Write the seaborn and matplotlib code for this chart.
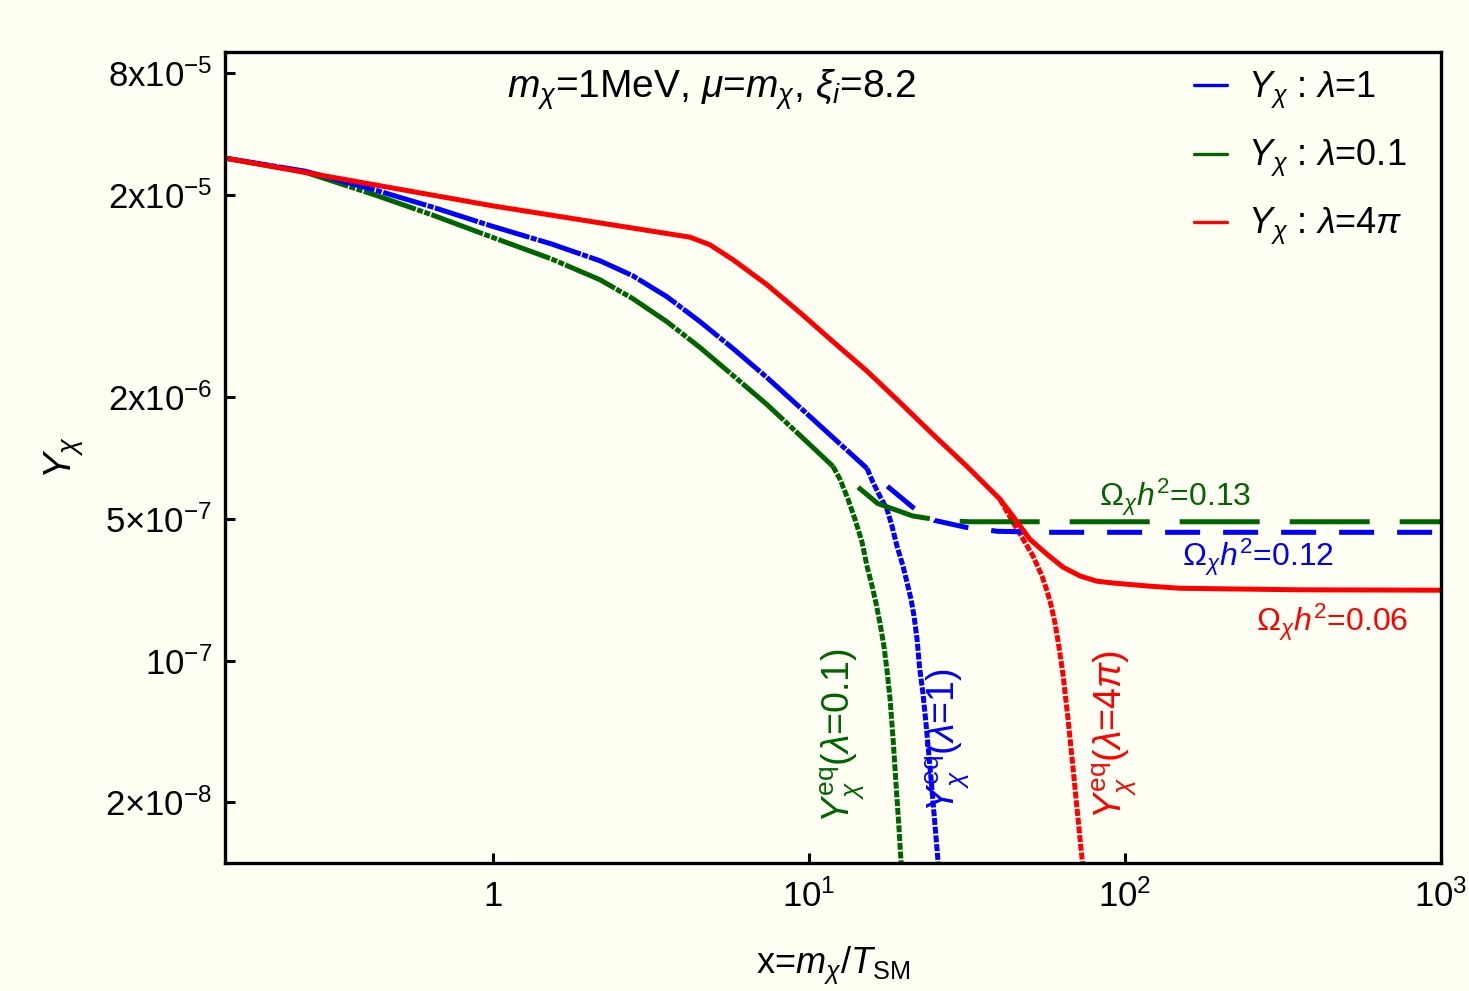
import matplotlib
matplotlib.use("Agg")
import matplotlib.pyplot as plt
from matplotlib.lines import Line2D
import pandas as pd
import seaborn as sns

# Y_chi vs x = m_chi/T_SM
# lambda = 4 pi
x_red = [0.142, 1.0, 4.2, 4.86, 5.75, 7.36, 9.37, 11.9, 15.3, 19.4, 24.7, 31.6,
         40.2, 44.2, 50.0, 56.6, 63.6, 72.1, 81.5, 91.6, 117.4, 149.0, 358.0, 1000.0]
y_red = [3.05e-5, 1.77e-5, 1.24e-5, 1.137e-5, 9.59e-6, 7.22e-6, 5.25e-6, 3.78e-6,
         2.69e-6, 1.89e-6, 1.31e-6, 9.13e-7, 6.28e-7, 5.17e-7, 3.98e-7, 3.36e-7,
         2.90e-7, 2.62e-7, 2.47e-7, 2.42e-7, 2.34e-7, 2.28e-7, 2.24e-7, 2.23e-7]
x_red_eq = [40.2, 44.2, 47.6, 51.2, 54.6, 56.65, 58.32, 60.04, 61.81, 63.6, 66.0,
            68.5, 71.0, 73.1, 74.7]
y_red_eq = [6.28e-7, 4.83e-7, 3.98e-7, 3.28e-7, 2.62e-7, 2.21e-7, 1.882e-7, 1.534e-7,
            1.168e-7, 8.6e-8, 5.16e-8, 2.92e-8, 1.656e-8, 1.05e-8, 8e-9]

# lambda = 1
x_blue = [0.142, 0.254, 0.423, 0.641, 0.986, 1.526, 2.18, 2.77, 3.55, 4.52, 5.75,
          7.36, 9.37, 11.9, 15.26]
y_blue = [3.05e-5, 2.63e-5, 2.123e-5, 1.75e-5, 1.41e-5, 1.15e-5, 9.48e-6, 7.99e-6,
          6.30e-6, 4.74e-6, 3.49e-6, 2.51e-6, 1.784e-6, 1.269e-6, 8.92e-7]
x_blue_eq = [15.26, 15.94, 16.77, 17.66, 18.31, 18.99, 19.84, 20.42, 21.03, 21.49,
             21.97, 22.37, 22.95, 23.46, 23.98, 24.51, 25.05, 25.6, 25.9]
y_blue_eq = [8.92e-7, 7.61e-7, 6.49e-7, 5.60e-7, 4.62e-7, 3.68e-7, 2.93e-7, 2.44e-7,
             2.01e-7, 1.662e-7, 1.28e-7, 9.31e-8, 6.85e-8, 4.87e-8, 3.35e-8, 2.28e-8,
             1.53e-8, 1.02e-8, 8e-9]
x_blue_fo = [17.7, 21.3, 24.9, 31.2, 39.5, 57.9, 1000.0]
y_blue_fo = [7.28e-7, 5.73e-7, 4.94e-7, 4.57e-7, 4.36e-7, 4.31e-7, 4.31e-7]

# lambda = 0.1
x_green = [0.142, 0.254, 0.423, 0.641, 0.986, 1.526, 2.18, 2.77, 3.55, 4.52, 5.75,
           7.36, 9.37, 11.91]
y_green = [3.05e-5, 2.60e-5, 2.005e-5, 1.599e-5, 1.245e-5, 9.70e-6, 7.64e-6, 6.16e-6,
           4.74e-6, 3.53e-6, 2.567e-6, 1.846e-6, 1.298e-6, 9.13e-7]
x_green_eq = [11.91, 12.54, 13.29, 13.98, 14.72, 15.26, 15.83, 16.29, 16.77, 17.28,
              17.66, 18.05, 18.45, 18.85, 19.27, 19.55, 19.7]
y_green_eq = [9.13e-7, 7.87e-7, 6.28e-7, 5.0e-7, 3.85e-7, 2.93e-7, 2.34e-7, 1.926e-7,
              1.534e-7, 1.168e-7, 8.89e-8, 6.47e-8, 4.11e-8, 2.46e-8, 1.478e-8,
              1.016e-8, 8e-9]
x_green_fo = [14.3, 16.5, 21.3, 26.0, 32.3, 1000.0]
y_green_fo = [7.2e-7, 5.98e-7, 5.19e-7, 4.94e-7, 4.86e-7, 4.86e-7]

xtick_vals = [1, 10, 100, 1000]
xtick_labels = ["1", r"$10^1$", r"$10^2$", r"$10^3$"]
ytick_vals = [8e-5, 2e-5, 2e-6, 5e-7, 1e-7, 2e-8]
ytick_labels = [r"8x$10^{-5}$", r"2x$10^{-5}$", r"2x$10^{-6}$",
                r"5$\times10^{-7}$", r"$10^{-7}$", r"2$\times10^{-8}$"]

legend_labels = [r"$Y_\chi$ : $\lambda$=1", r"$Y_\chi$ : $\lambda$=0.1",
                 r"$Y_\chi$ : $\lambda$=4$\pi$"]

BLUE = "#0000ff"
GREEN = "#006400"
RED = "#ff0000"
BG = "#fffff3"

sns.set_style("ticks")
plt.rcParams["font.family"] = ["Liberation Sans", "DejaVu Sans"]
plt.rcParams["mathtext.fontset"] = "custom"
plt.rcParams["mathtext.rm"] = "Liberation Sans"
plt.rcParams["mathtext.it"] = "Liberation Sans:italic"
plt.rcParams["mathtext.bf"] = "Liberation Sans:bold"
for k in ["text.color", "axes.labelcolor", "xtick.color", "ytick.color"]:
    plt.rcParams[k] = "black"

fig = plt.figure(figsize=(14.69, 9.91), dpi=100, facecolor=BG)
ax = fig.add_axes([0.1532, 0.1292, 0.8278, 0.8183], facecolor=BG)

LW = 3.6
dotted = (0, (1.4, 0.35))


def draw(xs, ys, color, ls="-"):
    df = pd.DataFrame({"x": xs, "y": ys})
    sns.lineplot(data=df, x="x", y="y", ax=ax, color=color, lw=LW, ls=ls,
                 estimator=None, sort=False, legend=False)


# equilibrium curves underneath
draw(x_green_eq, y_green_eq, GREEN, dotted)
draw(x_blue_eq, y_blue_eq, BLUE, dotted)
draw(x_red_eq, y_red_eq, RED, dotted)
# freeze-out tails
draw(x_blue_fo, y_blue_fo, BLUE, (0, (7, 4.6)))
draw(x_green_fo, y_green_fo, GREEN, (0, (16, 6)))
# main curves (Mathematica-style dash-dot with tiny gaps)
draw(x_green, y_green, GREEN, (0, (11, 0.3, 1.2, 0.3, 1.2, 0.3)))
draw(x_blue, y_blue, BLUE, (0, (9, 0.3, 1.2, 0.3)))
draw(x_red, y_red, RED)

ax.set_xscale("log")
ax.set_yscale("log")
ax.set_xlim(0.142, 1000)
ax.set_ylim(1e-8, 1.02e-4)
ax.minorticks_off()
ax.set_xticks(xtick_vals)
ax.set_xticklabels(xtick_labels)
ax.set_yticks(ytick_vals)
ax.set_yticklabels(ytick_labels)
ax.tick_params(direction="in", length=7, width=2.2, labelsize=25)
ax.tick_params(axis="x", pad=12)
ax.tick_params(axis="y", pad=9)
for s in ax.spines.values():
    s.set_linewidth(2.4)
    s.set_color("black")

ax.set_xlabel(r"x=$m_\chi$/$T_{\rm SM}$", fontsize=26, labelpad=22)
ax.set_ylabel(r"$Y_\chi$", fontsize=28, labelpad=14)

ax.text(712 / 1469, 1 - 90 / 991, r"$m_\chi$=1MeV, $\mu$=$m_\chi$, $\xi_i$=8.2",
        transform=fig.transFigure, ha="center", va="center", fontsize=28)

ax.text(1175 / 1469, 1 - 497 / 991, r"$\Omega_\chi h^2$=0.13", color=GREEN,
        transform=fig.transFigure, ha="center", va="center", fontsize=23)
ax.text(1258 / 1469, 1 - 557 / 991, r"$\Omega_\chi h^2$=0.12", color=BLUE,
        transform=fig.transFigure, ha="center", va="center", fontsize=23)
ax.text(1332 / 1469, 1 - 622 / 991, r"$\Omega_\chi h^2$=0.06", color=RED,
        transform=fig.transFigure, ha="center", va="center", fontsize=23)

ax.text(843 / 1469, 1 - 735 / 991, r"$Y_\chi^{\rm eq}$($\lambda$=0.1)", color=GREEN,
        transform=fig.transFigure, ha="center", va="center", fontsize=27, rotation=90)
ax.text(948 / 1469, 1 - 740 / 991, r"$Y_\chi^{\rm eq}$($\lambda$=1)", color=BLUE,
        transform=fig.transFigure, ha="center", va="center", fontsize=27, rotation=90)
ax.text(1115 / 1469, 1 - 735 / 991, r"$Y_\chi^{\rm eq}$($\lambda$=4$\pi$)", color=RED,
        transform=fig.transFigure, ha="center", va="center", fontsize=27, rotation=90)

handles = [Line2D([], [], color=c, lw=2.4) for c in (BLUE, GREEN, RED)]
ax.legend(handles, legend_labels, loc="upper left",
          bbox_to_anchor=(1194 / 1469, 1 - 70 / 991), bbox_transform=fig.transFigure,
          frameon=False, fontsize=26, handlelength=0.9, handletextpad=0.6,
          labelspacing=0.75, borderaxespad=0, borderpad=0)

fig.savefig("out.png", dpi=100, facecolor=BG)
